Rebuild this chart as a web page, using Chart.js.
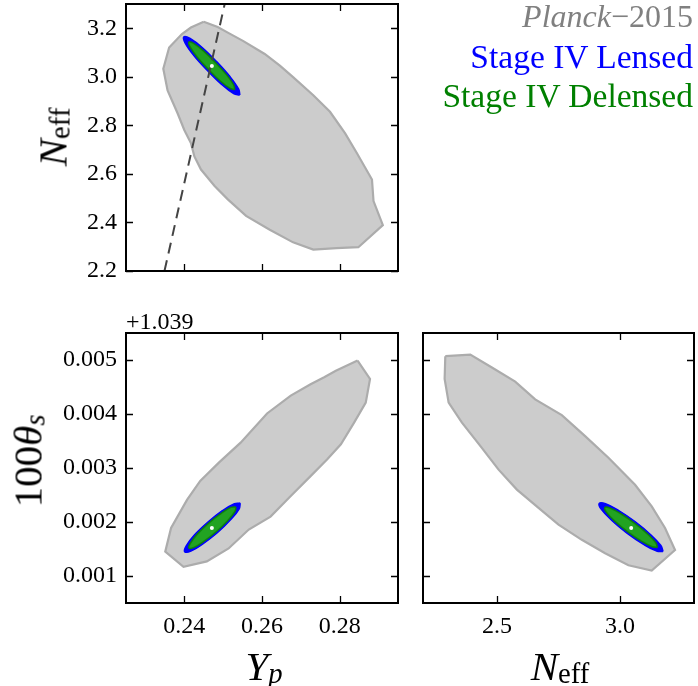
<!DOCTYPE html>
<html>
<head>
<meta charset="utf-8">
<script src="https://cdn.jsdelivr.net/npm/chart.js@4.4.1/dist/chart.umd.min.js"></script>
<style>
  html, body { margin: 0; padding: 0; background: #fff; }
  #wrap { position: relative; width: 698px; height: 686px; overflow: hidden; font-family: "Liberation Serif", serif; }
  #wrap canvas { position: absolute; left: 0; top: 0; }
  .txt { position: absolute; white-space: nowrap; line-height: 1; color: #000; }
  .legend { right: 5px; font-size: 33.5px; text-align: right; }
  .lab { font-size: 41px; }
  .sub { font-size: 0.7em; position: relative; top: 0.12em; }
  .rot { transform: translate(-50%, -50%) rotate(-90deg); }
  .ctr { transform: translateX(-50%); }
</style>
</head>
<body>
<div id="wrap">
  <canvas id="panelTop" width="698" height="686"></canvas>
  <canvas id="panelBL" width="698" height="686"></canvas>
  <canvas id="panelBR" width="698" height="686"></canvas>

  <div class="txt legend" style="top:0px; font-size:32px; color:#808080;"><i>Planck</i>&minus;2015</div>
  <div class="txt legend" style="top:40px; color:#0000ff;">Stage IV Lensed</div>
  <div class="txt legend" style="top:79px; color:#008000;">Stage IV Delensed</div>

  <div class="txt" style="left:126px; top:309px; font-size:24px;">+1.039</div>

  <div class="txt lab rot" style="left:53px; top:137px;"><i>N</i><span class="sub">eff</span></div>
  <div class="txt lab rot" style="left:28px; top:461px;">100<i>θ</i><span class="sub"><i>s</i></span></div>
  <div class="txt lab ctr" style="left:264px; top:646px;"><i>Y</i><span class="sub"><i>p</i></span></div>
  <div class="txt lab ctr" style="left:560px; top:646px;"><i>N</i><span class="sub">eff</span></div>
</div>

<script>
// tick values
const ypTicks = [0.24, 0.26, 0.28];
const neffTicksLeft = [2.2, 2.4, 2.6, 2.8, 3.0, 3.2];
const neffTicksBottom = [2.5, 3.0];
const thetaTicks = [0.001, 0.002, 0.003, 0.004, 0.005]; // offset from 1.039

// fiducial point
const fidYp = 0.2471, fidNeff = 3.045, fidTheta = 0.00189;

// BBN consistency line (Yp, Neff)
const bbnYp = [0.2349, 0.2504];
const bbnNeff = [2.2, 3.3];

// --- Yp vs Neff ---
const planckA_x = [0.2450, 0.2486, 0.2512, 0.2551, 0.2607, 0.2646, 0.2680, 0.2732, 0.2775, 0.2814, 0.2844, 0.2883, 0.2887, 0.2911, 0.2848, 0.2792, 0.2732, 0.2680, 0.2620, 0.2559, 0.2512, 0.2478, 0.2443, 0.2426, 0.2417, 0.2400, 0.2383, 0.2357, 0.2346, 0.2361, 0.2394, 0.2417];
const planckA_y = [3.227, 3.205, 3.182, 3.148, 3.094, 3.046, 2.999, 2.924, 2.856, 2.767, 2.686, 2.577, 2.488, 2.389, 2.298, 2.294, 2.288, 2.318, 2.370, 2.427, 2.495, 2.550, 2.618, 2.672, 2.727, 2.781, 2.849, 2.944, 3.033, 3.121, 3.176, 3.203];
const lensedA_x = [0.2543, 0.2527, 0.2496, 0.2459, 0.2424, 0.2402, 0.2399, 0.2415, 0.2446, 0.2483, 0.2518, 0.2540];
const lensedA_y = [2.925, 2.931, 2.969, 3.027, 3.089, 3.140, 3.165, 3.158, 3.121, 3.063, 3.000, 2.949];
const delensedA_x = [0.2530, 0.2517, 0.2492, 0.2462, 0.2433, 0.2415, 0.2412, 0.2425, 0.2450, 0.2480, 0.2509, 0.2527];
const delensedA_y = [2.947, 2.953, 2.984, 3.031, 3.082, 3.123, 3.143, 3.137, 3.106, 3.059, 3.008, 2.967];

// --- Yp vs 100 theta_s ---
const planckB_x = [0.2846, 0.2878, 0.2867, 0.2837, 0.2803, 0.2768, 0.2725, 0.2674, 0.2622, 0.2566, 0.2514, 0.2458, 0.2398, 0.2351, 0.2366, 0.2407, 0.2441, 0.2489, 0.2545, 0.2613, 0.2674, 0.2725, 0.2760, 0.2790];
const planckB_y = [0.00499, 0.00465, 0.00421, 0.00384, 0.00344, 0.00316, 0.00285, 0.00248, 0.00210, 0.00186, 0.00151, 0.00127, 0.00117, 0.00145, 0.00189, 0.00241, 0.00276, 0.00310, 0.00347, 0.00401, 0.00434, 0.00455, 0.00468, 0.00480];
const lensedB_x = [0.2544, 0.2541, 0.2519, 0.2485, 0.2447, 0.2417, 0.2401, 0.2405, 0.2426, 0.2461, 0.2498, 0.2529];
const lensedB_y = [0.00235, 0.00224, 0.00204, 0.00180, 0.00159, 0.00146, 0.00145, 0.00156, 0.00176, 0.00200, 0.00221, 0.00234];
const delensedB_x = [0.2533, 0.2530, 0.2511, 0.2482, 0.2450, 0.2425, 0.2412, 0.2416, 0.2434, 0.2463, 0.2495, 0.2520];
const delensedB_y = [0.00228, 0.00219, 0.00202, 0.00182, 0.00164, 0.00153, 0.00152, 0.00161, 0.00178, 0.00198, 0.00216, 0.00227];

// --- Neff vs 100 theta_s ---
const planckC_x = [2.2905, 2.3919, 2.4797, 2.5743, 2.6554, 2.7635, 2.8581, 2.9527, 3.0608, 3.1284, 3.1824, 3.2230, 3.1284, 3.0338, 2.9392, 2.8446, 2.7500, 2.6689, 2.5811, 2.5068, 2.4324, 2.3581, 2.3041, 2.2878];
const planckC_y = [0.00507, 0.00510, 0.00486, 0.00460, 0.00427, 0.00398, 0.00359, 0.00319, 0.00269, 0.00229, 0.00189, 0.00148, 0.00110, 0.00120, 0.00142, 0.00167, 0.00195, 0.00226, 0.00260, 0.00297, 0.00341, 0.00384, 0.00421, 0.00465];
const lensedC_x = [3.1745, 3.1486, 3.0951, 3.0278, 2.9653, 2.9240, 2.9151, 2.9410, 2.9945, 3.0618, 3.1242, 3.1656];
const lensedC_y = [0.001452, 0.001460, 0.001586, 0.001794, 0.002033, 0.002233, 0.002345, 0.002338, 0.002211, 0.002003, 0.001765, 0.001564];
const delensedC_x = [3.1518, 3.1307, 3.0866, 3.0314, 2.9795, 2.9451, 2.9378, 2.9585, 3.0030, 3.0582, 3.1100, 3.1441];
const delensedC_y = [0.001530, 0.001541, 0.001644, 0.001817, 0.002012, 0.002178, 0.002267, 0.002260, 0.002153, 0.001980, 0.001785, 0.001620];

const FONT = '"Liberation Serif", serif';

function loop(xs, ys) {
    const pts = xs.map((x, i) => ({ x: x, y: ys[i] }));
    pts.push(pts[0]);
    return pts;
}

function contourSets(planck, lensed, delensed, fid, extra) {
    const sets = [
        { data: [fid], pointRadius: 2, pointBackgroundColor: '#fff', pointBorderWidth: 0, showLine: false }
    ];
    if (extra) sets.push(extra);
    sets.push(
        { data: delensed, showLine: true, fill: 'shape', tension: 0.4, pointRadius: 0,
          borderColor: '#0f800f', borderWidth: 1.5, backgroundColor: '#22a322' },
        { data: lensed, showLine: true, fill: 'shape', tension: 0.4, pointRadius: 0,
          borderColor: '#0000ff', borderWidth: 1.5, backgroundColor: '#0000ff' },
        { data: planck, showLine: true, fill: 'shape', tension: 0, pointRadius: 0,
          borderColor: '#acacac', borderWidth: 2.2, backgroundColor: '#cccccc' }
    );
    return sets;
}

// frame with inward ticks on all four sides
const framePlugin = {
    id: 'frame',
    afterDraw(chart) {
        const { ctx, chartArea: a, scales: { x, y } } = chart;
        ctx.save();
        ctx.strokeStyle = '#000';
        ctx.lineWidth = 1.3;
        ctx.beginPath();
        x.ticks.forEach(t => {
            const px = Math.round(x.getPixelForValue(t.value)) + 0.5;
            ctx.moveTo(px, a.bottom); ctx.lineTo(px, a.bottom - 7);
            ctx.moveTo(px, a.top); ctx.lineTo(px, a.top + 7);
        });
        y.ticks.forEach(t => {
            const py = Math.round(y.getPixelForValue(t.value)) + 0.5;
            ctx.moveTo(a.left, py); ctx.lineTo(a.left + 7, py);
            ctx.moveTo(a.right, py); ctx.lineTo(a.right - 7, py);
        });
        ctx.stroke();
        ctx.lineWidth = 2;
        ctx.strokeRect(a.left, a.top, a.right - a.left, a.bottom - a.top);
        ctx.restore();
    }
};

function axis(min, max, ticks, showLabels, size, digits) {
    return {
        type: 'linear', min: min, max: max,
        afterBuildTicks: s => { s.ticks = ticks.map(v => ({ value: v })); },
        afterFit: s => {
            if (s.isHorizontal()) s.height = size; else s.width = size;
            s.paddingLeft = s.paddingRight = s.paddingTop = s.paddingBottom = 0;
        },
        grid: { display: false, drawTicks: false },
        border: { display: false },
        ticks: {
            display: showLabels, padding: 9, autoSkip: false, maxRotation: 0,
            color: '#000', font: { family: FONT, size: 24 },
            callback: v => v.toFixed(digits)
        }
    };
}

function makePanel(id, datasets, xScale, yScale, padding) {
    return new Chart(document.getElementById(id), {
        type: 'scatter',
        data: { datasets: datasets },
        options: {
            responsive: false, animation: false, devicePixelRatio: 1,
            layout: { padding: padding },
            plugins: { legend: { display: false }, tooltip: { enabled: false } },
            scales: { x: xScale, y: yScale }
        },
        plugins: [framePlugin]
    });
}

const bbnLine = {
    data: bbnYp.map((x, i) => ({ x: x, y: bbnNeff[i] })), showLine: true, pointRadius: 0,
    borderColor: '#444444', borderWidth: 2, borderDash: [11, 7], fill: false
};

makePanel('panelTop',
    contourSets(loop(planckA_x, planckA_y), loop(lensedA_x, lensedA_y), loop(delensedA_x, delensedA_y),
                { x: fidYp, y: fidNeff }, bbnLine),
    axis(0.225, 0.295, ypTicks, false, 0, 2),
    axis(2.2, 3.3, neffTicksLeft, true, 90, 1),
    { left: 36, right: 300, top: 3, bottom: 415 });

makePanel('panelBL',
    contourSets(loop(planckB_x, planckB_y), loop(lensedB_x, lensedB_y), loop(delensedB_x, delensedB_y),
                { x: fidYp, y: fidTheta }),
    axis(0.225, 0.295, ypTicks, true, 40, 2),
    axis(0.0005, 0.0055, thetaTicks, true, 90, 3),
    { left: 36, right: 300, top: 333, bottom: 43 });

makePanel('panelBR',
    contourSets(loop(planckC_x, planckC_y), loop(lensedC_x, lensedC_y), loop(delensedC_x, delensedC_y),
                { x: fidNeff, y: fidTheta }),
    axis(2.2, 3.3, neffTicksBottom, true, 40, 1),
    axis(0.0005, 0.0055, thetaTicks, false, 0, 3),
    { left: 423, right: 1, top: 333, bottom: 43 });
</script>
</body>
</html>
